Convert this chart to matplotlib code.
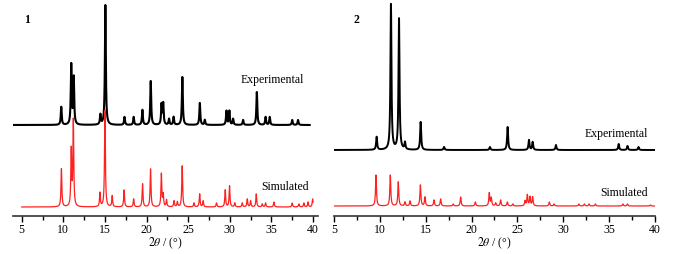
import numpy as np
import matplotlib
matplotlib.use('Agg')
import matplotlib.pyplot as plt

plt.rcParams['font.family'] = ['Liberation Serif', 'DejaVu Serif']
plt.rcParams['mathtext.fontset'] = 'stix'

# peak lists: position (2theta), height (px above baseline)
exp1_pos = [9.75, 10.95, 11.25, 14.45, 15.05, 17.35, 18.45, 19.5, 20.5, 21.8, 22.0, 22.7, 23.25,
            24.3, 26.4, 27.0, 29.6, 29.95, 30.4, 31.6, 33.25, 34.3, 34.8, 37.5, 38.2]
exp1_h = [18, 60, 47, 10, 120, 8, 8, 15, 44, 20, 21, 6, 8,
          48, 22, 5, 14, 14, 6, 5, 33, 8, 8, 5, 5]
sim1_pos = [9.77, 10.95, 11.2, 14.4, 15.0, 15.87, 17.3, 18.45, 19.52, 20.48, 21.78, 22.0, 22.4,
            23.3, 23.7, 24.28, 25.7, 26.38, 26.8, 28.4, 29.45, 29.97, 30.6, 31.5, 32.1, 32.5,
            33.18, 33.9, 34.3, 35.3, 37.5, 38.3, 38.9, 39.4, 39.95]
sim1_h = [38, 56, 86, 14, 97, 11, 17, 8, 23, 38, 33, 12, 7,
          6, 5, 41, 4, 13, 6, 4, 17, 21, 4, 4, 8, 6,
          13, 3, 4, 5, 4, 3, 4, 5, 8]

exp2_pos = [9.65, 11.21, 12.09, 12.74, 14.45, 17.0, 22.0, 23.93, 26.26, 26.66, 29.2, 36.04, 37.0, 38.2]
exp2_h = [13, 146, 131, 7, 28, 3, 3, 23, 10, 8, 5, 6, 4, 3]
sim2_pos = [9.58, 11.14, 12.01, 12.74, 13.29, 14.42, 14.92, 15.9, 16.63, 18.0, 18.81, 20.41, 21.93,
            22.15, 22.63, 23.17, 23.9, 24.5, 25.83, 26.08, 26.37, 26.66, 28.48, 29.0, 31.7, 32.3,
            32.8, 33.5, 36.5, 37.0, 39.5]
sim2_h = [31, 31, 24, 4, 5, 21, 9, 6, 7, 2, 9, 4, 13,
          8, 3, 6, 4, 2, 5, 11, 9, 9, 4, 2, 2, 2,
          2, 2, 2, 2, 1]

exp1_base, sim1_base = 91, 9
exp2_base, sim2_base = 66, 10


def pattern(x, pos, h, w):
    y = np.zeros_like(x)
    for p, a in zip(pos, h):
        y += a / (1 + ((x - p) / w) ** 2)
    return y


fig = plt.figure(figsize=(6.83, 2.54), dpi=100)
ax1 = fig.add_axes([0.019, 0.1496, 0.4466, 0.8504])
ax2 = fig.add_axes([0.489, 0.1496, 0.47, 0.8504])

xs = np.linspace(5, 40, 4000)
xe1 = np.linspace(4.0, 39.6, 4000)
ax1.plot(xe1, exp1_base + pattern(xe1, exp1_pos, exp1_h, 0.065), color='black', lw=1.5)
ax1.plot(xs, sim1_base + pattern(xs, sim1_pos, sim1_h, 0.06), color='#ff2020', lw=0.9)
ax1.set_xlim(3.95, 40.6)

ax2.plot(xs, exp2_base + pattern(xs, exp2_pos, exp2_h, 0.065), color='black', lw=1.4)
ax2.plot(xs, sim2_base + pattern(xs, sim2_pos, sim2_h, 0.06), color='#ff2020', lw=0.9)
ax2.set_xlim(5, 40)

for ax in (ax1, ax2):
    ax.set_ylim(0, 216)
    for s in ('top', 'left', 'right'):
        ax.spines[s].set_visible(False)
    ax.spines['bottom'].set_color('#333333')
    ax.spines['bottom'].set_linewidth(1.2)
    ax.set_yticks([])
    ax.set_xticks(range(5, 41, 5))
    ax.set_xticks(np.arange(7.5, 40, 5), minor=True)
    ax.tick_params(axis='x', which='major', direction='out', length=4, width=1, labelsize=8.5, pad=1.5)
    ax.tick_params(axis='x', which='minor', direction='out', length=3, width=1)
    ax.set_xlabel(r'$\mathit{2\theta}$ / (°)', fontsize=8.5, labelpad=0)
    ax.patch.set_alpha(0)

ax1.text(5.64, 196, '1', fontsize=8.5, fontweight='bold', ha='center', va='center')
ax1.text(35.1, 136, 'Experimental', fontsize=8.5, ha='center', va='center')
ax1.text(36.6, 29, 'Simulated', fontsize=8.5, ha='center', va='center')
ax2.text(7.4, 196, '2', fontsize=8.5, fontweight='bold', ha='center', va='center')
ax2.text(35.8, 82, 'Experimental', fontsize=8.5, ha='center', va='center')
ax2.text(36.6, 23, 'Simulated', fontsize=8.5, ha='center', va='center')

fig.savefig('out.png', dpi=100)
